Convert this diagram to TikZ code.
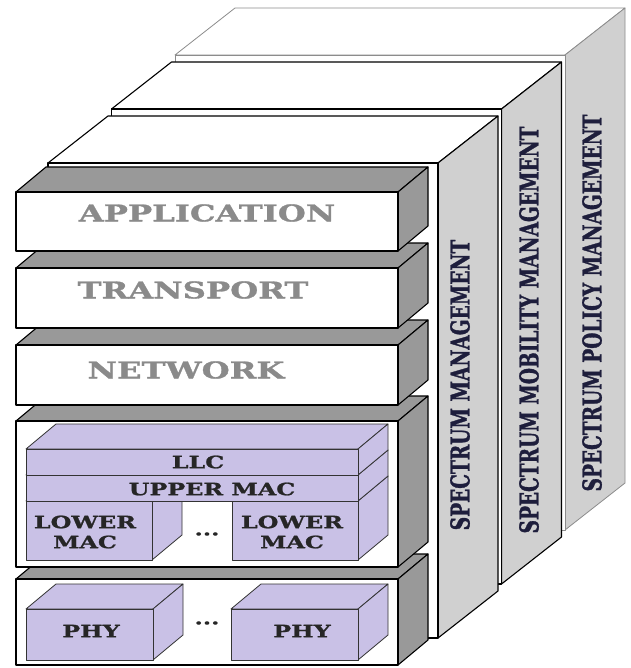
\documentclass[tikz,border=0pt]{standalone}
\usepackage{fontspec}
\setmainfont{DejaVu Serif}
\newfontfamily\widefont[FakeStretch=1.4, BoldFeatures={FakeBold=1.2}]{DejaVu Serif}
\newfontfamily\narrowfont[FakeStretch=0.714, BoldFeatures={FakeBold=1.2}]{DejaVu Serif}
\usepackage{xcolor}
\usetikzlibrary{positioning}

\definecolor{slabgray}{HTML}{D0D0D0}
\definecolor{boxgray}{HTML}{999999}
\definecolor{lavender}{HTML}{C9C1E6}
\definecolor{labelgray}{HTML}{8A8A8A}
\definecolor{navy}{HTML}{1E1E3C}

% box: front (#1,#2)-(#3,#4), depth (#5,#6), fills front/top/side
\newcommand{\drawbox}[9]{%
  \filldraw[fill=#8] (#1,#2) -- (#1+#5,#2+#6) -- (#3+#5,#2+#6) -- (#3,#2) -- cycle;
  \filldraw[fill=#9] (#3,#2) -- (#3+#5,#2+#6) -- (#3+#5,#4+#6) -- (#3,#4) -- cycle;
  \filldraw[fill=#7] (#1,#2) rectangle (#3,#4);
}

\tikzset{
  slabtext/.style={font=\narrowfont\fontsize{26}{26}\selectfont\bfseries, text=navy, inner sep=0pt},
  layertext/.style={font=\widefont\fontsize{23}{23}\selectfont\bfseries, text=labelgray, inner sep=0pt},
  partstext/.style={font=\widefont\fontsize{17}{20}\selectfont\bfseries, text=black!85, inner sep=0pt, align=center},
  parts/.style={line width=0.8pt, draw=black!80},
}

\begin{document}
\begin{tikzpicture}[x=1pt, y=-1pt, line width=1.1pt, line join=round]
\useasboundingbox (0,0) rectangle (630,668);

% management planes, back to front
\begin{scope}[draw=black!45, line width=0.8pt]
\drawbox{175}{55}{565}{530}{60}{-47}{white}{white}{slabgray}
\end{scope}
\drawbox{111.5}{109}{501.5}{584}{60}{-47}{white}{white}{slabgray}
\drawbox{48}{163}{438}{638}{60}{-47}{white}{white}{slabgray}

\node (spm) [rotate=90, slabtext] at (592,303) {SPECTRUM POLICY MANAGEMENT};
\node (smm) [rotate=90, slabtext] at (529,330) {SPECTRUM MOBILITY MANAGEMENT};
\node (sm)  [rotate=90, slabtext] at (460,385) {SPECTRUM MANAGEMENT};

% protocol layers, bottom to top
\drawbox{16}{579}{398}{665}{30}{-25}{white}{boxgray}{boxgray}
\drawbox{16}{421}{398}{567}{30}{-25}{white}{boxgray}{boxgray}
\drawbox{16}{345}{398}{405}{30}{-25}{white}{boxgray}{boxgray}
\drawbox{16}{268}{398}{328}{30}{-25}{white}{boxgray}{boxgray}
\drawbox{16}{192}{398}{251}{30}{-25}{white}{boxgray}{boxgray}

\node (app) [layertext] at (207,213) {APPLICATION};
\node (trans) [layertext] at (193,290) {TRANSPORT};
\node (net) [layertext] at (186,370) {NETWORK};

% link layer parts
\begin{scope}[parts]
\drawbox{26}{501}{152}{560}{30}{-25}{lavender}{lavender}{lavender}
\drawbox{232}{501}{358}{560}{30}{-25}{lavender}{lavender}{lavender}
\drawbox{26}{475}{358}{501}{30}{-25}{lavender}{lavender}{lavender}
\drawbox{26}{449}{358}{475}{30}{-25}{lavender}{lavender}{lavender}
\end{scope}

\node (llc) [partstext] at (198,462) {LLC};
\node (umac) [partstext] at (212,489) {UPPER MAC};
\node (lmac1) [partstext] at (85,532) {LOWER\\MAC};
\node (lmac2) [partstext] at (292,532) {LOWER\\MAC};
\node (mdots) [partstext] at (207,534) {...};

% physical layer parts
\begin{scope}[parts]
\drawbox{26}{609}{153}{660}{30}{-25}{lavender}{lavender}{lavender}
\drawbox{231}{609}{358}{660}{30}{-25}{lavender}{lavender}{lavender}
\end{scope}

\node (phy1) [partstext] at (91,631) {PHY};
\node (phy2) [partstext] at (302,631) {PHY};
\node (pdots) [partstext] at (207,623) {...};

\end{tikzpicture}
\end{document}
